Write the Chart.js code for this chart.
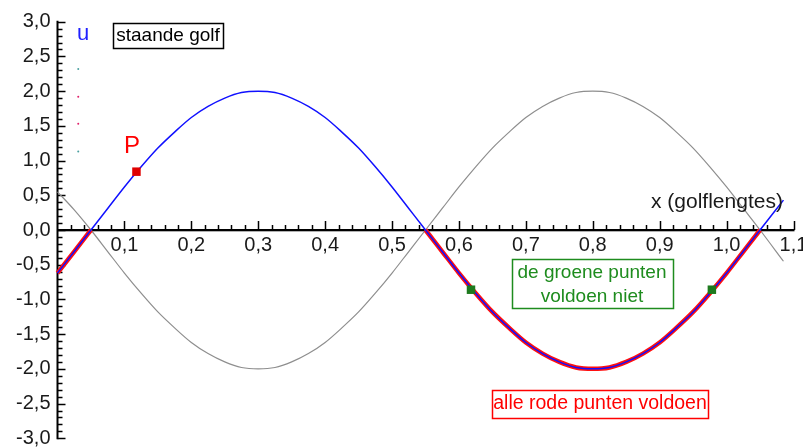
<!DOCTYPE html>
<html>
<head>
<meta charset="utf-8">
<script src="https://cdn.jsdelivr.net/npm/chart.js@4"></script>
<style>
  html, body { margin: 0; padding: 0; background: #fff; }
  #wrap { width: 803px; height: 448px; position: relative; }
</style>
</head>
<body>
<div id="wrap"><canvas id="c" width="803" height="448"></canvas></div>
<script>
// ---- data ----
const xValues = [0, 0.025, 0.05, 0.075, 0.1, 0.125, 0.15, 0.175, 0.2, 0.225, 0.25, 0.275, 0.3, 0.325, 0.35, 0.375, 0.4, 0.425, 0.45, 0.475, 0.5, 0.525, 0.55, 0.575, 0.6, 0.625, 0.65, 0.675, 0.7, 0.725, 0.75, 0.775, 0.8, 0.825, 0.85, 0.875, 0.9, 0.925, 0.95, 0.975, 1.0, 1.025, 1.05, 1.085];
const blueU = [-0.62, -0.31, 0, 0.31, 0.62, 0.91, 1.18, 1.41, 1.62, 1.78, 1.9, 1.98, 2.0, 1.98, 1.9, 1.78, 1.62, 1.41, 1.18, 0.91, 0.62, 0.31, 0, -0.31, -0.62, -0.91, -1.18, -1.41, -1.62, -1.78, -1.9, -1.98, -2.0, -1.98, -1.9, -1.78, -1.62, -1.41, -1.18, -0.91, -0.62, -0.31, 0, 0.43];
const grayU = [0.55, 0.29, 0, -0.31, -0.62, -0.91, -1.18, -1.41, -1.62, -1.78, -1.9, -1.98, -2.0, -1.98, -1.9, -1.78, -1.62, -1.41, -1.18, -0.91, -0.62, -0.31, 0, 0.31, 0.62, 0.91, 1.18, 1.41, 1.62, 1.78, 1.9, 1.98, 2.0, 1.98, 1.9, 1.78, 1.62, 1.41, 1.18, 0.91, 0.62, 0.31, 0, -0.45];
const pointPX = [0.118];
const pointPU = [0.84];
const greenX = [0.618, 0.978];
const greenU = [-0.86, -0.86];
const dotX = [0.031, 0.031, 0.031, 0.031];
const dotU = [2.32, 1.92, 1.53, 1.13];
const dotColors = ['#4aa0a0', '#e0206a', '#e0206a', '#4aa0a0'];
const xTickValues = [0.1, 0.2, 0.3, 0.4, 0.5, 0.6, 0.7, 0.8, 0.9, 1.0, 1.1];
const xTickLabels = ['0,1', '0,2', '0,3', '0,4', '0,5', '0,6', '0,7', '0,8', '0,9', '1,0', '1,1'];
const yTickValues = [3, 2.5, 2, 1.5, 1, 0.5, 0, -0.5, -1, -1.5, -2, -2.5, -3];
const yTickLabels = ['3,0', '2,5', '2,0', '1,5', '1,0', '0,5', '0,0', '-0,5', '-1,0', '-1,5', '-2,0', '-2,5', '-3,0'];

// ---- build datasets ----
const pts = (xs, ys) => xs.map((x, i) => ({ x: x, y: ys[i] }));
const redPts = xValues.map((x, i) => ({ x: x, y: blueU[i] <= 0 ? blueU[i] : null }));

const FONT = "'Liberation Sans', Arial, sans-serif";

const axesPlugin = {
  id: 'axesPlugin',
  beforeDatasetsDraw(chart) {
    const ctx = chart.ctx;
    const xs = chart.scales.x, ys = chart.scales.y;
    const X0 = xs.getPixelForValue(0), Y0 = ys.getPixelForValue(0);
    const Xend = xs.getPixelForValue(1.1);
    const Ytop = ys.getPixelForValue(3), Ybot = ys.getPixelForValue(-3);
    ctx.save();
    // x-axis line
    ctx.strokeStyle = '#b0b0b0'; ctx.lineWidth = 1;
    ctx.beginPath(); ctx.moveTo(X0, Y0 + 1.5); ctx.lineTo(Xend + 1, Y0 + 1.5); ctx.stroke();
    ctx.strokeStyle = '#000'; ctx.lineWidth = 2;
    ctx.beginPath(); ctx.moveTo(X0, Y0); ctx.lineTo(Xend + 1, Y0); ctx.stroke();
    // y-axis line
    ctx.beginPath(); ctx.moveTo(X0, Ytop - 1); ctx.lineTo(X0, Ybot + 1); ctx.stroke();
    // x ticks (upwards)
    ctx.lineWidth = 1.5;
    for (let i = 1; i <= 55; i++) {
      const px = Math.round(xs.getPixelForValue(i * 0.02)) + 0.5;
      const len = (i % 5 === 0) ? 9 : 5;
      ctx.beginPath(); ctx.moveTo(px, Y0); ctx.lineTo(px, Y0 - len); ctx.stroke();
    }
    // y ticks (to the right)
    for (let i = -30; i <= 30; i++) {
      const py = Math.round(ys.getPixelForValue(i / 10)) + 0.5;
      const len = (i % 5 === 0) ? 8 : 5;
      ctx.beginPath(); ctx.moveTo(X0, py); ctx.lineTo(X0 + len, py); ctx.stroke();
    }
    // labels
    ctx.fillStyle = '#1a1a1a';
    ctx.font = '20px ' + FONT;
    ctx.textAlign = 'center'; ctx.textBaseline = 'middle';
    xTickValues.forEach((v, i) => {
      ctx.fillText(xTickLabels[i], xs.getPixelForValue(v), Y0 + 15);
    });
    ctx.textAlign = 'right';
    yTickValues.forEach((v, i) => {
      ctx.fillText(yTickLabels[i], X0 - 7, ys.getPixelForValue(v));
    });
    ctx.restore();
  },
  afterDraw(chart) {
    const ctx = chart.ctx;
    ctx.save();
    // axis titles
    ctx.fillStyle = '#1a1a1a';
    ctx.font = '21px ' + FONT;
    ctx.textAlign = 'left'; ctx.textBaseline = 'alphabetic';
    ctx.fillText('x (golflengtes)', 651, 208);
    ctx.fillStyle = '#2020ff';
    ctx.font = '22px ' + FONT;
    ctx.textAlign = 'center'; ctx.textBaseline = 'middle';
    ctx.fillText('u', 83, 34);
    ctx.fillStyle = '#ff0000';
    ctx.font = '24px ' + FONT;
    ctx.fillText('P', 132, 146);
    // boxes
    function box(x1, y1, x2, y2, color) {
      ctx.strokeStyle = color; ctx.lineWidth = 1.5;
      ctx.strokeRect(x1 + 0.5, y1 + 0.5, x2 - x1, y2 - y1);
    }
    ctx.font = '19px ' + FONT;
    box(113, 23, 223, 48, '#000');
    ctx.fillStyle = '#000';
    ctx.fillText('staande golf', 168, 36);
    box(512, 259, 673, 308, '#1e8c1e');
    ctx.fillStyle = '#1e8c1e';
    ctx.fillText('de groene punten', 592, 273);
    ctx.fillText('voldoen niet', 592, 297);
    box(492, 390, 708, 418, '#ff0000');
    ctx.fillStyle = '#ff0000';
    ctx.font = '19.5px ' + FONT;
    ctx.fillText('alle rode punten voldoen', 600, 404);
    ctx.restore();
  }
};

new Chart(document.getElementById('c'), {
  type: 'scatter',
  data: {
    datasets: [
      { label: 'P', data: pts(pointPX, pointPU), pointStyle: 'rect', pointRadius: 6, pointBorderWidth: 0, backgroundColor: '#e00000', borderColor: '#e00000', order: 0 },
      { label: 'groen', data: pts(greenX, greenU), pointStyle: 'rect', pointRadius: 6, pointBorderWidth: 0, backgroundColor: '#1e7a1e', borderColor: '#1e7a1e', order: 0 },
      { label: 'dots', data: pts(dotX, dotU), pointRadius: 1, pointBorderWidth: 0, backgroundColor: dotColors, borderColor: dotColors, order: 0 },
      { label: 'u', data: pts(xValues, blueU), showLine: true, borderColor: '#1010ff', borderWidth: 1.5, pointRadius: 0, cubicInterpolationMode: 'monotone', order: 1 },
      { label: 'rood', data: redPts, showLine: true, spanGaps: false, borderColor: '#ff1010', borderWidth: 4.5, pointRadius: 0, cubicInterpolationMode: 'monotone', order: 2 },
      { label: 'grijs', data: pts(xValues, grayU), showLine: true, borderColor: '#8e8e8e', borderWidth: 1.2, pointRadius: 0, cubicInterpolationMode: 'monotone', order: 3 }
    ]
  },
  options: {
    responsive: false,
    animation: false,
    devicePixelRatio: 1,
    clip: false,
    layout: { padding: { left: 57.5, right: 9.5, top: 21.7, bottom: 9.7 } },
    plugins: { legend: { display: false }, tooltip: { enabled: false } },
    scales: {
      x: { type: 'linear', min: 0, max: 1.1, display: false },
      y: { type: 'linear', min: -3, max: 3, display: false }
    }
  },
  plugins: [axesPlugin]
});
</script>
</body>
</html>
